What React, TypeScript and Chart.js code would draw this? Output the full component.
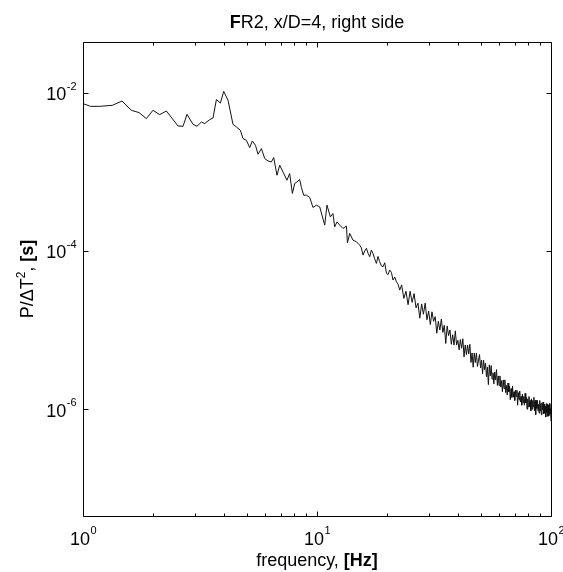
import React, { useEffect, useRef } from "react";
import { Chart, registerables } from "chart.js";

Chart.register(...registerables);

// ---- data (frequency in Hz, PSD given as log10 of P/ΔT² in s) ----
const lowFreq = [1.0, 1.076, 1.179, 1.335, 1.468, 1.61, 1.735, 1.866, 1.991, 2.127, 2.272, 2.547, 2.676, 2.782, 2.951, 3.071, 3.206, 3.311, 3.479, 3.594, 3.716, 3.866, 3.993, 4.167, 4.375, 4.524, 4.705, 4.828, 4.992, 5.157, 5.296, 5.457, 5.598, 5.788, 5.978, 6.175, 6.385, 6.53, 6.745, 6.93, 7.155, 7.44, 7.64, 7.85, 8.03, 8.21, 8.43, 8.58, 8.77, 9.01, 9.31, 9.61, 9.94];
const lowLogPsd = [-2.139, -2.173, -2.173, -2.16, -2.106, -2.223, -2.252, -2.328, -2.223, -2.278, -2.232, -2.421, -2.425, -2.274, -2.4, -2.425, -2.371, -2.391, -2.341, -2.32, -2.088, -2.131, -1.984, -2.097, -2.4, -2.434, -2.476, -2.58, -2.602, -2.694, -2.611, -2.665, -2.779, -2.707, -2.833, -2.863, -2.876, -2.82, -3.044, -2.917, -3.002, -3.107, -3.022, -3.274, -3.148, -3.128, -3.098, -3.199, -3.296, -3.296, -3.325, -3.451, -3.422];

const midFreq = [10.27, 10.79, 11.03, 11.41, 11.7, 11.9, 12.18, 12.5, 12.91, 13.36, 13.49, 13.8, 14.25, 14.74, 15.22, 15.47, 15.73, 16.0, 16.26, 16.53, 16.8, 17.07, 17.35, 17.64, 17.94, 18.23, 18.53, 18.84, 19.15, 19.48, 19.81, 20.13, 20.45, 20.79, 21.13, 21.49, 21.85, 22.2, 22.57];
const midLogPsd = [-3.444, -3.674, -3.422, -3.57, -3.527, -3.696, -3.633, -3.674, -3.716, -3.687, -3.898, -3.779, -3.864, -3.885, -3.927, -3.96, -4.053, -4.0, -3.968, -4.03, -4.074, -3.99, -4.032, -4.1, -4.158, -4.07, -4.137, -4.19, -4.2, -4.15, -4.284, -4.3, -4.242, -4.27, -4.368, -4.33, -4.39, -4.42, -4.495];

const freqA = [23, 23.5, 24, 24.5, 25, 25.5, 26, 26.5, 27, 27.5, 28, 28.5, 29, 29.5, 30, 30.5, 31, 31.5, 32, 32.5, 33, 33.5, 34, 34.5, 35, 35.5, 36, 36.5, 37, 37.5, 38, 38.5, 39, 39.5, 40];
const logPsdA = [-4.43, -4.6, -4.51, -4.68, -4.51, -4.65, -4.54, -4.72, -4.66, -4.85, -4.67, -4.8, -4.66, -4.87, -4.76, -4.93, -4.77, -4.89, -4.83, -5.04, -4.89, -5.0, -4.86, -5.03, -4.94, -5.17, -4.95, -5.07, -5.0, -5.18, -5.06, -5.19, -5.01, -5.19, -5.13];

const freqB = [40.5, 41, 41.5, 42, 42.5, 43, 43.5, 44, 44.5, 45, 45.5, 46, 46.5, 47, 47.5, 48, 48.5, 49, 49.5, 50, 50.5, 51, 51.5, 52, 52.5, 53, 53.5, 54, 54.5, 55, 55.5, 56, 56.5, 57, 57.5, 58, 58.5, 59, 59.5, 60];
const logPsdB = [-5.25, -5.12, -5.23, -5.11, -5.34, -5.19, -5.31, -5.19, -5.3, -5.18, -5.41, -5.29, -5.47, -5.29, -5.41, -5.29, -5.46, -5.38, -5.31, -5.48, -5.38, -5.55, -5.38, -5.5, -5.42, -5.59, -5.47, -5.69, -5.44, -5.58, -5.45, -5.62, -5.54, -5.68, -5.53, -5.63, -5.5, -5.7, -5.58, -5.7];

const freqC = [60.5, 61, 61.5, 62, 62.5, 63, 63.5, 64, 64.5, 65, 65.5, 66, 66.5, 67, 67.5, 68, 68.5, 69, 69.5, 70, 70.5, 71, 71.5, 72, 72.5, 73, 73.5, 74, 74.5, 75, 75.5, 76, 76.5, 77, 77.5, 78, 78.5, 79, 79.5, 80];
const logPsdC = [-5.58, -5.72, -5.64, -5.78, -5.63, -5.74, -5.63, -5.79, -5.7, -5.82, -5.67, -5.78, -5.71, -5.88, -5.74, -5.85, -5.71, -5.85, -5.78, -5.89, -5.76, -5.84, -5.76, -5.95, -5.79, -5.88, -5.77, -5.91, -5.84, -5.95, -5.81, -5.92, -5.84, -5.95, -5.8, -5.92, -5.85, -6.0, -5.87, -5.97];

const freqD = [80.5, 81, 81.5, 82, 82.5, 83, 83.5, 84, 84.5, 85, 85.5, 86, 86.5, 87, 87.5, 88, 88.5, 89, 89.5, 90, 90.5, 91, 91.5, 92, 92.5, 93, 93.5, 94, 94.5, 95, 95.5, 96, 96.5, 97, 97.5, 98, 98.5, 99, 99.5, 100];
const logPsdD = [-5.84, -5.97, -5.89, -6.02, -5.87, -6.0, -5.89, -5.97, -5.85, -6.02, -5.89, -6.07, -5.89, -5.99, -5.89, -6.02, -5.94, -6.05, -5.89, -6.02, -5.93, -6.07, -5.92, -6.01, -5.91, -6.06, -5.94, -6.05, -5.96, -6.1, -5.93, -6.04, -5.94, -6.09, -5.95, -6.08, -5.93, -6.06, -5.99, -6.15];

// axis description
const xMin = 1;
const xMax = 100;
const yMinExp = -7.35;
const yMaxExp = -1.36;
const xMajorTicks = [1, 10, 100];
const xMinorTicks = [2, 3, 4, 5, 6, 7, 8, 9, 20, 30, 40, 50, 60, 70, 80, 90];
const yMajorTicks = [-2, -4, -6];
const xTickExps = ["0", "1", "2"];

const titleBold = "F";
const titleRest = "R2, x/D=4, right side";
const xTitleNormal = "frequency, ";
const xTitleBold = "[Hz]";

const FONT = "'Liberation Sans', Arial, Helvetica, sans-serif";

const axesPlugin = {
  id: "matlabAxes",
  afterDraw(chart: any) {
    const ctx: CanvasRenderingContext2D = chart.ctx;
    const { left, right, top, bottom } = chart.chartArea;
    const xs = chart.scales.x;
    const ys = chart.scales.y;
    const L = Math.floor(left) + 0.5;
    const R = Math.floor(right) + 0.5;
    const T = Math.floor(top) + 0.5;
    const B = Math.floor(bottom) + 0.5;
    ctx.save();
    ctx.strokeStyle = "#000";
    ctx.lineWidth = 1;
    ctx.beginPath();
    ctx.rect(L, T, R - L, B - T);
    ctx.stroke();

    // x ticks (inward, top and bottom)
    const drawXTick = (v: number, len: number) => {
      const px = Math.round(xs.getPixelForValue(v)) + 0.5;
      ctx.beginPath();
      ctx.moveTo(px, B);
      ctx.lineTo(px, B - len);
      ctx.moveTo(px, T);
      ctx.lineTo(px, T + len);
      ctx.stroke();
    };
    xMinorTicks.forEach((v) => drawXTick(v, 3));
    xMajorTicks.forEach((v) => drawXTick(v, 5));

    // y ticks (inward, left and right)
    yMajorTicks.forEach((e) => {
      const py = Math.round(ys.getPixelForValue(Math.pow(10, e))) + 0.5;
      ctx.beginPath();
      ctx.moveTo(L, py);
      ctx.lineTo(L + 5, py);
      ctx.moveTo(R, py);
      ctx.lineTo(R - 5, py);
      ctx.stroke();
    });

    ctx.fillStyle = "#000";
    ctx.textBaseline = "alphabetic";
    ctx.textAlign = "left";
    const baseFont = `18px ${FONT}`;
    const supFont = `11px ${FONT}`;

    const measurePow = (exp: string) => {
      ctx.font = baseFont;
      const w1 = ctx.measureText("10").width;
      ctx.font = supFont;
      const w2 = ctx.measureText(exp).width;
      return [w1, w2];
    };

    // x tick labels
    xMajorTicks.forEach((v, i) => {
      const px = xs.getPixelForValue(v);
      const [w1, w2] = measurePow(xTickExps[i]);
      const start = px - (w1 + w2) / 2;
      ctx.font = baseFont;
      ctx.fillText("10", start, 545);
      ctx.font = supFont;
      ctx.fillText(xTickExps[i], start + w1 + 0.5, 534);
    });

    // y tick labels
    yMajorTicks.forEach((e) => {
      const py = ys.getPixelForValue(Math.pow(10, e));
      const exp = String(e);
      const [w1, w2] = measurePow(exp);
      const start = 76 - (w1 + w2);
      ctx.font = baseFont;
      ctx.fillText("10", start, py + 7.5);
      ctx.font = supFont;
      ctx.fillText(exp, start + w1 + 0.5, py - 3);
    });

    const cx = (left + right) / 2;

    // title
    ctx.font = `bold 18px ${FONT}`;
    const tb = ctx.measureText(titleBold).width;
    ctx.font = `18px ${FONT}`;
    const tr = ctx.measureText(titleRest).width;
    let tx = cx - (tb + tr) / 2;
    ctx.font = `bold 18px ${FONT}`;
    ctx.fillText(titleBold, tx, 28);
    ctx.font = `18px ${FONT}`;
    ctx.fillText(titleRest, tx + tb, 28);

    // x title
    ctx.font = `18px ${FONT}`;
    const xn = ctx.measureText(xTitleNormal).width;
    ctx.font = `bold 18px ${FONT}`;
    const xb = ctx.measureText(xTitleBold).width;
    tx = cx - (xn + xb) / 2;
    ctx.font = `18px ${FONT}`;
    ctx.fillText(xTitleNormal, tx, 566);
    ctx.font = `bold 18px ${FONT}`;
    ctx.fillText(xTitleBold, tx + xn, 566);

    // y title (rotated)
    const cy = (top + bottom) / 2;
    const parts: [string, string, number][] = [
      ["P/ΔT", `18px ${FONT}`, 0],
      ["2", `12px ${FONT}`, -8],
      [", ", `18px ${FONT}`, 0],
      ["[s]", `bold 18px ${FONT}`, 0],
    ];
    let total = 0;
    const widths = parts.map(([s, f]) => {
      ctx.font = f;
      const w = ctx.measureText(s).width;
      total += w;
      return w;
    });
    ctx.translate(33, cy);
    ctx.rotate(-Math.PI / 2);
    let pos = -total / 2;
    parts.forEach(([s, f, dy], i) => {
      ctx.font = f;
      ctx.fillText(s, pos, dy);
      pos += widths[i];
    });
    ctx.restore();
  },
};

export default function App() {
  const ref = useRef<HTMLCanvasElement | null>(null);

  useEffect(() => {
    if (!ref.current) return;
    const freq = [...lowFreq, ...midFreq, ...freqA, ...freqB, ...freqC, ...freqD];
    const logPsd = [...lowLogPsd, ...midLogPsd, ...logPsdA, ...logPsdB, ...logPsdC, ...logPsdD];
    const n = Math.min(freq.length, logPsd.length);
    const points = [];
    for (let i = 0; i < n; i++) points.push({ x: freq[i], y: Math.pow(10, logPsd[i]) });

    const chart = new Chart(ref.current, {
      type: "line",
      data: {
        datasets: [
          {
            data: points,
            borderColor: "#111",
            borderWidth: 1,
            pointRadius: 0,
            tension: 0,
            fill: false,
          },
        ],
      },
      options: {
        responsive: false,
        animation: false,
        devicePixelRatio: 1,
        layout: { padding: { left: 83, right: 12, top: 42, bottom: 56 } },
        plugins: { legend: { display: false }, tooltip: { enabled: false } },
        scales: {
          x: { type: "logarithmic", min: xMin, max: xMax, display: false },
          y: {
            type: "logarithmic",
            min: Math.pow(10, yMinExp),
            max: Math.pow(10, yMaxExp),
            display: false,
          },
        },
      },
      plugins: [axesPlugin],
    } as any);
    return () => chart.destroy();
  }, []);

  return (
    <div style={{ position: "absolute", left: 0, top: 0, width: 563, height: 572, background: "#fff" }}>
      <canvas ref={ref} width={563} height={572} style={{ display: "block" }} />
    </div>
  );
}
